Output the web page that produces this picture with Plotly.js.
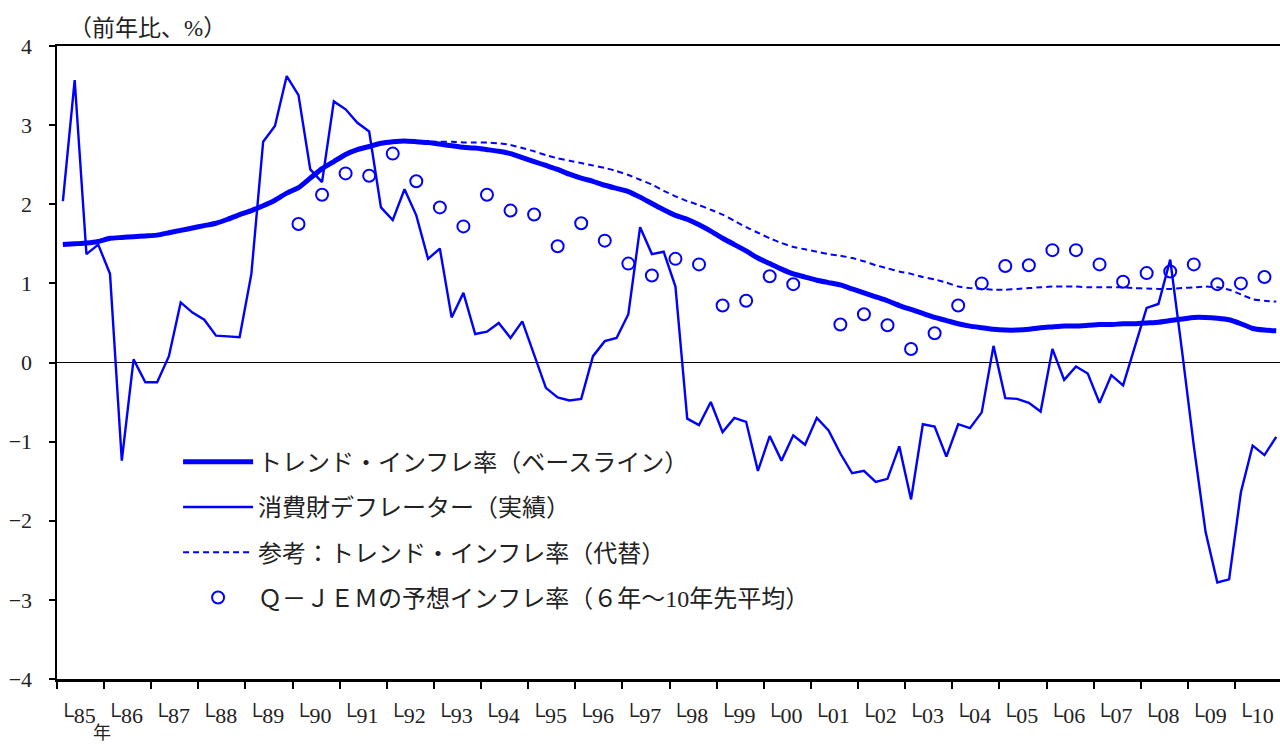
<!DOCTYPE html>
<html>
<head>
<meta charset="utf-8">
<script src="https://cdn.plot.ly/plotly-3.0.1.min.js"></script>
<style>
html,body{margin:0;padding:0;background:#fff;}
#chart{width:1280px;height:744px;}
</style>
</head>
<body>
<div id="chart"></div>
<script>
// Quarterly series, 1985Q1 .. 2010Q4
const firstYear = 1985;
const trendBaseline = [
  1.49,1.50,1.51,1.53, 1.57,1.58,1.59,1.60, 1.61,1.64,1.67,1.70, 1.73,1.76,1.81,1.87,
  1.92,1.98,2.05,2.14, 2.21,2.33,2.45,2.54, 2.63,2.69,2.73,2.77, 2.79,2.80,2.79,2.78,
  2.76,2.74,2.72,2.71, 2.69,2.67,2.64,2.59, 2.54,2.49,2.44,2.38, 2.33,2.29,2.24,2.20,
  2.16,2.09,2.01,1.93, 1.86,1.81,1.74,1.66, 1.57,1.49,1.41,1.32, 1.25,1.18,1.12,1.08,
  1.04,1.01,0.98,0.93, 0.88,0.83,0.78,0.72, 0.67,0.62,0.57,0.53, 0.49,0.46,0.44,0.42,
  0.41,0.41,0.42,0.44, 0.45,0.46,0.46,0.47, 0.48,0.48,0.49,0.49, 0.50,0.51,0.53,0.55,
  0.57,0.57,0.56,0.54, 0.49,0.43,0.41,0.40
];
const deflatorActual = [
  2.04,3.57,1.37,1.49, 1.12,-1.24,0.04,-0.25, -0.25,0.08,0.76,0.63, 0.54,0.34,0.33,0.32,
  1.12,2.79,2.99,3.62, 3.38,2.44,2.28,3.30, 3.20,3.03,2.92,1.96, 1.80,2.19,1.86,1.31,
  1.44,0.57,0.88,0.36, 0.39,0.50,0.31,0.52, 0.10,-0.32,-0.44,-0.48, -0.46,0.08,0.27,0.31,
  0.61,1.71,1.37,1.40, 0.96,-0.71,-0.79,-0.50, -0.88,-0.70,-0.75,-1.37, -0.93,-1.24,-0.92,-1.04,
  -0.70,-0.86,-1.15,-1.40, -1.37,-1.51,-1.47,-1.06, -1.73,-0.78,-0.81,-1.19, -0.78,-0.83,-0.63,0.21,
  -0.45,-0.46,-0.51,-0.62, 0.17,-0.22,-0.05,-0.14, -0.51,-0.16,-0.29,0.20, 0.69,0.74,1.30,0.15,
  -1.05,-2.14,-2.78,-2.74, -1.64,-1.05,-1.17,-0.94
];
const trendAlternative = [
  1.49,1.50,1.51,1.53, 1.57,1.58,1.59,1.60, 1.61,1.64,1.67,1.70, 1.73,1.76,1.81,1.87,
  1.92,1.98,2.05,2.14, 2.21,2.33,2.45,2.54, 2.63,2.69,2.73,2.77, 2.79,2.80,2.79,2.79,
  2.79,2.79,2.78,2.78, 2.78,2.77,2.75,2.71, 2.67,2.62,2.58,2.55, 2.52,2.49,2.46,2.42,
  2.37,2.31,2.25,2.17, 2.10,2.04,1.99,1.93, 1.87,1.79,1.71,1.64, 1.57,1.51,1.46,1.43,
  1.40,1.37,1.35,1.32, 1.28,1.23,1.19,1.15, 1.12,1.08,1.05,1.01, 0.96,0.94,0.93,0.92,
  0.92,0.93,0.94,0.95, 0.96,0.96,0.96,0.95, 0.95,0.95,0.95,0.94, 0.935,0.93,0.93,0.94,
  0.95,0.96,0.95,0.92, 0.86,0.80,0.78,0.77
];
// Semi-annual Q-JEM expectations, 1990Q1 .. 2010Q3 (Q1 and Q3)
const qjemFirstYear = 1990;
const qjemExpected = [
  1.75,2.12, 2.39,2.36, 2.64,2.29, 1.96,1.72, 2.12,1.92, 1.87,1.47, 1.76,1.54, 1.25,1.10,
  1.31,1.24, 0.72,0.78, 1.09,0.99, null,0.48, 0.61,0.47, 0.17,0.37, 0.72,1.00, 1.22,1.23,
  1.42,1.42, 1.24,1.02, 1.13,1.15, 1.24,0.99, 1.00,1.08
];
const tickYears = [1985,1986,1987,1988,1989,1990,1991,1992,1993,1994,1995,1996,1997,
  1998,1999,2000,2001,2002,2003,2004,2005,2006,2007,2008,2009,2010];
const tickLabels = ["└85","└86","└87","└88","└89","└90","└91","└92","└93","└94","└95","└96","└97",
  "└98","└99","└00","└01","└02","└03","└04","└05","└06","└07","└08","└09","└10"];
const seriesNames = [
  "トレンド・インフレ率（ベースライン）",
  "消費財デフレーター（実績）",
  "参考：トレンド・インフレ率（代替）",
  "Ｑ－ＪＥＭの予想インフレ率（６年～10年先平均）"
];

const qx = trendBaseline.map((_, i) => firstYear + (i + 0.5) / 4);
const sx = qjemExpected.map((_, i) => qjemFirstYear + 0.125 + i * 0.5);
const BLUE = "#0000ff";
const FONT = "'Liberation Serif', 'Noto Sans CJK JP', serif";

const traces = [
  {x: qx, y: trendAlternative, name: seriesNames[2], mode: "lines", legendrank: 3, legendgroup: "c",
   line: {color: BLUE, width: 2, dash: "6px,4px", shape: "spline", smoothing: 0.4}},
  {x: qx, y: trendBaseline, name: seriesNames[0], mode: "lines", legendrank: 1, legendgroup: "a",
   line: {color: BLUE, width: 5, shape: "spline", smoothing: 0.4}},
  {x: qx, y: deflatorActual, name: seriesNames[1], mode: "lines", legendrank: 2, legendgroup: "b",
   line: {color: BLUE, width: 2.4}},
  {x: sx, y: qjemExpected, name: seriesNames[3], mode: "markers", legendrank: 4, legendgroup: "d",
   marker: {symbol: "circle-open", size: 12, color: BLUE, line: {width: 2, color: BLUE}}}
];

const layout = {
  width: 1280, height: 744,
  margin: {l: 57, r: 0, t: 46, b: 65},
  paper_bgcolor: "#fff", plot_bgcolor: "#fff",
  font: {family: FONT, size: 20, color: "#222"},
  showlegend: true,
  legend: {
    x: 0.099, y: 0.378, xanchor: "left", yanchor: "top",
    bgcolor: "rgba(0,0,0,0)", borderwidth: 0,
    font: {family: FONT, size: 24, color: "#222"},
    traceorder: "grouped", tracegroupgap: 11, itemwidth: 70
  },
  xaxis: {
    type: "linear", range: [1985, 2010.955], fixedrange: true,
    tickmode: "array", tickvals: tickYears, ticktext: tickLabels,
    ticks: "outside", ticklen: 7, tickwidth: 2, tickcolor: "#000",
    ticklabelshift: 20, ticklabelstandoff: 8,
    tickfont: {family: FONT, size: 22, color: "#222"},
    showline: true, linecolor: "#000", linewidth: 2.5, mirror: true,
    showgrid: false, zeroline: false
  },
  yaxis: {
    range: [-4, 4], dtick: 1, tick0: 0, fixedrange: true,
    ticks: "outside", ticklen: 6, tickwidth: 2, tickcolor: "#000",
    ticklabelstandoff: 12,
    tickfont: {family: FONT, size: 22, color: "#222"},
    showline: true, linecolor: "#000", linewidth: 2.5,
    showgrid: false, zeroline: true, zerolinecolor: "#000", zerolinewidth: 1.6
  },
  annotations: [
    {text: "（前年比、%）", xref: "paper", yref: "paper", x: 0.008, y: 1.028,
     xanchor: "left", yanchor: "middle", showarrow: false,
     font: {family: FONT, size: 23, color: "#222"}},
    {text: "年", xref: "paper", yref: "paper", x: 0.0365, y: -0.0855,
     xanchor: "center", yanchor: "middle", showarrow: false,
     font: {family: FONT, size: 18, color: "#222"}}
  ]
};

Plotly.newPlot("chart", traces, layout, {displayModeBar: false, staticPlot: true});
</script>
</body>
</html>
